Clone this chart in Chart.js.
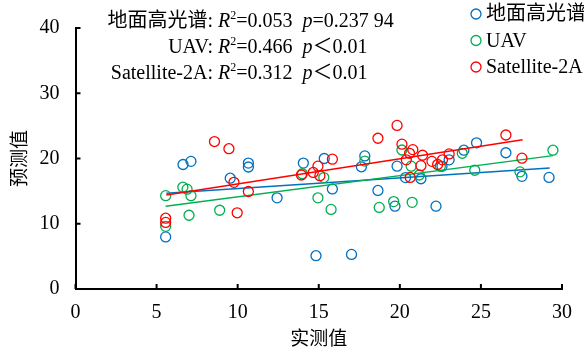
<!DOCTYPE html>
<html>
<head>
<meta charset="utf-8">
<script src="https://cdn.jsdelivr.net/npm/chart.js@4"></script>
<style>
  html, body { margin: 0; padding: 0; background: #fff; }
  #wrap { width: 584px; height: 353px; }
</style>
</head>
<body>
<div id="wrap"><canvas id="chart" width="584" height="353"></canvas></div>
<script>
const seriesNames = ['地面高光谱', 'UAV', 'Satellite-2A']
const xTicks = [0, 5, 10, 15, 20, 25, 30]
const yTicks = [0, 10, 20, 30, 40]

// measured (x), predicted (y)
const groundX = [5.56, 6.63, 7.12, 9.54, 10.66, 10.66, 12.43, 14.05, 15.34, 15.84, 14.83, 17.02, 17.84, 17.63, 18.65, 19.83, 19.7, 20.35, 21.3, 23.04, 23.95, 24.73, 26.54, 27.53, 29.2, 22.23, 22.6]
const groundY = [7.98, 19.08, 19.56, 16.98, 19.3, 18.7, 13.97, 19.3, 20.0, 15.33, 5.1, 5.3, 20.4, 18.73, 15.1, 18.83, 12.7, 17.08, 16.9, 19.8, 21.27, 22.4, 20.88, 17.27, 17.1, 12.7, 18.8]

const uavX = [5.56, 6.62, 6.88, 7.12, 7.0, 8.89, 5.56, 13.99, 15.31, 14.95, 15.76, 17.84, 18.73, 19.62, 20.76, 20.13, 20.7, 21.2, 22.5, 23.85, 24.62, 27.41, 29.44]
const uavY = [14.3, 15.6, 15.3, 14.3, 11.3, 12.07, 9.6, 17.66, 17.08, 13.97, 12.2, 19.6, 12.5, 13.4, 13.28, 21.3, 18.83, 17.47, 18.8, 20.8, 18.2, 17.95, 21.27]

const satX = [8.57, 9.46, 9.77, 10.66, 9.97, 5.56, 5.56, 13.93, 14.66, 14.95, 15.07, 15.84, 18.65, 19.83, 20.13, 20.8, 20.6, 20.4, 20.64, 21.4, 21.3, 21.98, 22.33, 22.63, 23.04, 26.54, 27.53]
const satY = [22.6, 21.5, 16.35, 14.94, 11.68, 10.85, 10.2, 17.47, 17.86, 18.83, 17.37, 19.9, 23.1, 25.07, 22.2, 21.36, 20.8, 19.8, 17.1, 20.5, 18.9, 19.56, 19.08, 19.8, 20.7, 23.6, 20.05]

// fitted line end points
const groundFitX = [5.6, 29.24]
const groundFitY = [14.68, 18.54]
const uavFitX = [5.56, 29.44]
const uavFitY = [12.7, 20.44]
const satFitX = [5.6, 27.57]
const satFitY = [14.42, 22.87]

const stats = [
    { label: '地面高光谱:', r2: '=0.053', p: '=0.237 94' },
    { label: 'UAV:', r2: '=0.466', p: '＜0.01' },
    { label: 'Satellite-2A:', r2: '=0.312', p: '＜0.01' }
]

const colors = ['#0070C0', '#00B050', '#FF0000']
const serif = '"Liberation Serif", "Noto Sans CJK SC", serif'

function pts(xs, ys) {
    return xs.map((x, i) => ({ x: x, y: ys[i] }))
}

function scatterSet(xs, ys, i) {
    return {
        type: 'scatter',
        label: seriesNames[i],
        data: pts(xs, ys),
        pointStyle: 'circle',
        pointRadius: 5,
        borderColor: colors[i],
        backgroundColor: 'rgba(0,0,0,0)',
        borderWidth: 1.3,
        order: 3 - i
    }
}

function fitSet(xs, ys, i) {
    return {
        type: 'line',
        label: seriesNames[i] + ' fit',
        data: pts(xs, ys),
        borderColor: colors[i],
        borderWidth: 1.5,
        pointRadius: 0,
        fill: false,
        order: 3 - i
    }
}

// inside ticks, stats text and legend
const extras = {
    id: 'extras',
    afterDraw(chart) {
        const ctx = chart.ctx
        const xs = chart.scales.x
        const ys = chart.scales.y
        const area = chart.chartArea
        ctx.save()
        ctx.strokeStyle = '#000'
        ctx.lineWidth = 2
        ctx.beginPath()
        xTicks.forEach(v => {
            const px = xs.getPixelForValue(v)
            ctx.moveTo(px, area.bottom)
            ctx.lineTo(px, area.bottom - 5)
        })
        yTicks.forEach(v => {
            const py = ys.getPixelForValue(v)
            ctx.moveTo(area.left, py)
            ctx.lineTo(area.left + 5, py)
        })
        ctx.stroke()

        // stats, aligned on the colon
        ctx.fillStyle = '#000'
        ctx.textBaseline = 'middle'
        const colonX = 213
        const fs = 20
        stats.forEach((s, i) => {
            const y = 22 + i * 26
            ctx.font = fs + 'px ' + serif
            ctx.textAlign = 'right'
            ctx.fillText(s.label, colonX, y)
            ctx.textAlign = 'left'
            let x = colonX + 5
            ctx.font = 'italic ' + fs + 'px ' + serif
            ctx.fillText('R', x, y)
            x += ctx.measureText('R').width
            ctx.font = '12px ' + serif
            ctx.fillText('2', x, y - 6)
            x += ctx.measureText('2').width
            ctx.font = fs + 'px ' + serif
            ctx.fillText(s.r2, x, y)
            x += ctx.measureText(s.r2).width + 10
            ctx.font = 'italic ' + fs + 'px ' + serif
            ctx.fillText('p', x, y)
            x += ctx.measureText('p').width
            ctx.font = fs + 'px ' + serif
            ctx.fillText(s.p, x, y)
        })

        // legend
        seriesNames.forEach((name, i) => {
            const y = 14 + i * 26.5
            ctx.beginPath()
            ctx.strokeStyle = colors[i]
            ctx.lineWidth = 1.3
            ctx.arc(476, y, 5, 0, Math.PI * 2)
            ctx.stroke()
            ctx.font = '20px ' + serif
            ctx.textAlign = 'left'
            ctx.fillStyle = '#000'
            ctx.fillText(name, 486, y + 1)
        })
        ctx.restore()
    }
}

const context = document.getElementById('chart')
new Chart(context, {
    data: {
        datasets: [
            scatterSet(groundX, groundY, 0),
            scatterSet(uavX, uavY, 1),
            scatterSet(satX, satY, 2),
            fitSet(groundFitX, groundFitY, 0),
            fitSet(uavFitX, uavFitY, 1),
            fitSet(satFitX, satFitY, 2)
        ]
    },
    options: {
        responsive: false,
        animation: false,
        layout: { padding: { left: 0, right: 16, top: 15, bottom: 0 } },
        plugins: {
            legend: { display: false },
            tooltip: { enabled: false }
        },
        scales: {
            x: {
                type: 'linear',
                min: 0,
                max: 30,
                afterFit: s => { s.height = 64 },
                afterBuildTicks: s => { s.ticks = xTicks.map(v => ({ value: v })) },
                ticks: { padding: 12, color: '#000', font: { family: serif, size: 20 } },
                grid: { drawOnChartArea: false, drawTicks: false },
                border: { color: '#000', width: 2 },
                title: {
                    display: true,
                    text: '实测值',
                    color: '#000',
                    font: { family: serif, size: 19 },
                    padding: { top: 0, bottom: 2 }
                }
            },
            y: {
                type: 'linear',
                min: 0,
                max: 40,
                afterFit: s => { s.width = 75.5 },
                afterBuildTicks: s => { s.ticks = yTicks.map(v => ({ value: v })) },
                ticks: { padding: 16, color: '#000', font: { family: serif, size: 20 } },
                grid: { drawOnChartArea: false, drawTicks: false },
                border: { color: '#000', width: 2 },
                title: {
                    display: true,
                    text: '预测值',
                    color: '#000',
                    font: { family: serif, size: 19 },
                    padding: { top: 10, bottom: 0 }
                }
            }
        }
    },
    plugins: [extras]
})
</script>
</body>
</html>
